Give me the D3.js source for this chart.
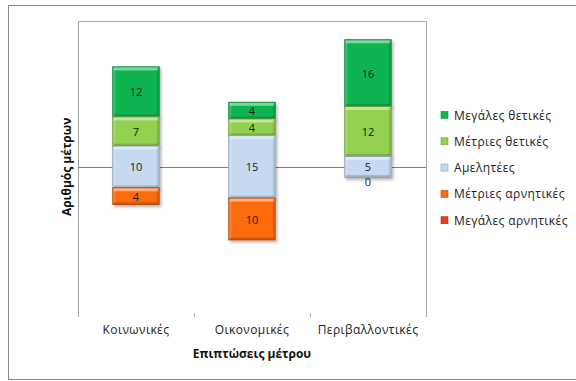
<!DOCTYPE html>
<html>
<head>
<meta charset="utf-8">
<script src="https://cdn.jsdelivr.net/npm/d3@7"></script>
<style>
  html, body { margin: 0; padding: 0; background: #fff; }
  svg { display: block; font-family: "Open Sans", "Liberation Sans", sans-serif; }
</style>
</head>
<body>
<svg id="chart" width="576" height="381"></svg>
<script>
// Measures per impact area, split by size of effect
const categories = ["Κοινωνικές", "Οικονομικές", "Περιβαλλοντικές"];
const seriesNames = ["Μεγάλες θετικές", "Μέτριες θετικές", "Αμελητέες", "Μέτριες αρνητικές", "Μεγάλες αρνητικές"];
const bigPositive = [12, 4, 16];
const modPositive = [7, 4, 12];
const negligible = [10, 15, 5];
const modNegative = [4, 10, 0];
const bigNegative = [null, null, null];
const seriesColors = ["#0db450", "#92d050", "#c6d9f1", "#fb6a0c", "#e8401c"];
const seriesEdges = ["#0a8a3c", "#6f9e3a", "#8ea4bf", "#c04f08", "#b02e12"];

const svg = d3.select("#chart");
const plot = { left: 78, right: 426, top: 21, bottom: 317 };

// drop shadow for the bars
const defs = svg.append("defs");
const f = defs.append("filter").attr("id", "shadow")
  .attr("x", "-20%").attr("y", "-20%").attr("width", "150%").attr("height", "150%");
f.append("feDropShadow").attr("dx", 1.5).attr("dy", 2).attr("stdDeviation", 1.5)
  .attr("flood-color", "#000").attr("flood-opacity", 0.3);

// outer chart frame
svg.append("rect").attr("x", 8.5).attr("y", 5.5).attr("width", 600).attr("height", 374)
  .attr("fill", "#fff").attr("stroke", "#868686");

const x = d3.scaleBand().domain(categories)
  .range([plot.left, plot.right]).paddingInner(0.6).paddingOuter(0.3);
const y = d3.scaleLinear().domain([-36, 35]).range([plot.bottom, plot.top]);

// plot area frame (top, left, right)
svg.append("path")
  .attr("d", `M${plot.left + 0.5},${plot.bottom}V${plot.top + 0.5}H${plot.right + 0.5}V${plot.bottom}`)
  .attr("fill", "none").attr("stroke", "#a6a6a6");

// zero line
svg.append("line")
  .attr("x1", plot.left).attr("x2", plot.right)
  .attr("y1", Math.round(y(0)) + 0.5).attr("y2", Math.round(y(0)) + 0.5)
  .attr("stroke", "#808080");

// category boundary ticks
const step = x.step();
const bounds = d3.range(categories.length + 1).map(i => plot.left + i * step);
svg.append("g").selectAll("line").data(bounds.slice(1, -1)).join("line")
  .attr("x1", d => Math.round(d) + 0.5).attr("x2", d => Math.round(d) + 0.5)
  .attr("y1", plot.bottom - 4).attr("y2", plot.bottom)
  .attr("stroke", "#b0b0b0");

// category labels
const xAxis = svg.append("g").attr("transform", `translate(0,${plot.bottom})`)
  .call(d3.axisBottom(x).tickSize(0).tickPadding(8));
xAxis.select(".domain").remove();
xAxis.selectAll("text").attr("font-size", 12).attr("fill", "#222")
  .attr("font-family", "'Open Sans', sans-serif").attr("letter-spacing", 0.4);

// build diverging stacks: negligible centred on zero
const values = [bigPositive, modPositive, negligible, modNegative, bigNegative];
const segments = [];
categories.forEach((c, i) => {
  const n = negligible[i] || 0;
  const mp = modPositive[i] || 0;
  const mn = modNegative[i] || 0;
  const spans = [
    [n / 2 + mp, n / 2 + mp + (bigPositive[i] || 0)],
    [n / 2, n / 2 + mp],
    [-n / 2, n / 2],
    [-n / 2 - mn, -n / 2],
    [-n / 2 - mn - (bigNegative[i] || 0), -n / 2 - mn]
  ];
  spans.forEach((s, k) => {
    const v = values[k][i];
    if (v === null || v === undefined) return;
    segments.push({ cat: c, k, v, lo: s[0], hi: s[1] });
  });
});

const barsG = svg.append("g");
const bw = x.bandwidth();
segments.forEach(s => {
  const g = barsG.append("g");
  const top = y(s.hi), bot = y(s.lo);
  const h = bot - top;
  const x0 = x(s.cat);
  if (h > 0) {
    g.append("rect").attr("x", x0).attr("y", top).attr("width", bw).attr("height", h)
      .attr("fill", seriesColors[s.k]).attr("stroke", seriesEdges[s.k]).attr("stroke-width", 1)
      .attr("filter", "url(#shadow)");
    // bevel: light top edge, darker bottom edge
    g.append("rect").attr("x", x0 + 1).attr("y", top + 0.5).attr("width", bw - 2)
      .attr("height", Math.min(3, h / 3)).attr("fill", "#fff").attr("opacity", 0.45);
    g.append("rect").attr("x", x0 + 0.5).attr("y", top + 1).attr("width", 2)
      .attr("height", h - 2).attr("fill", "#fff").attr("opacity", 0.2);
    g.append("rect").attr("x", x0 + bw - 2.5).attr("y", top + 1).attr("width", 2)
      .attr("height", h - 2).attr("fill", "#000").attr("opacity", 0.1);
    g.append("rect").attr("x", x0 + 1).attr("y", bot - Math.min(2.5, h / 4)).attr("width", bw - 2)
      .attr("height", Math.min(2.5, h / 4)).attr("fill", "#000").attr("opacity", 0.15);
  }
  // a zero-height segment keeps its label just under the bar edge
  const ly = h > 0 ? (top + bot) / 2 : bot + 4.5;
  g.append("text").attr("x", x0 + bw / 2).attr("y", ly)
    .attr("text-anchor", "middle").attr("dominant-baseline", "central")
    .attr("font-size", 11).attr("fill", "#1a1a1a").text(s.v);
});

// axis titles
svg.append("text").attr("transform", `translate(66,${y(0)}) rotate(-90)`)
  .attr("text-anchor", "middle").attr("dominant-baseline", "central")
  .attr("font-size", 12).attr("font-weight", "bold").attr("fill", "#111")
  .text("Αριθμός μέτρων");
svg.append("text").attr("x", (plot.left + plot.right) / 2).attr("y", 353)
  .attr("text-anchor", "middle").attr("dominant-baseline", "central")
  .attr("font-size", 12).attr("font-weight", "bold").attr("fill", "#111")
  .text("Επιπτώσεις μέτρου");

// legend
const legend = svg.append("g").attr("transform", "translate(441,115)");
const items = legend.selectAll("g").data(seriesNames).join("g")
  .attr("transform", (d, i) => `translate(0,${i * 26.3})`);
items.append("rect").attr("x", 0).attr("y", -3.5).attr("width", 7).attr("height", 7)
  .attr("fill", (d, i) => seriesColors[i]).attr("stroke", (d, i) => seriesEdges[i]).attr("stroke-width", 0.6);
items.append("text").attr("x", 13).attr("y", 0).attr("dominant-baseline", "central")
  .attr("font-size", 12).attr("fill", "#222").attr("letter-spacing", 0.4).text(d => d);
</script>
</body>
</html>
